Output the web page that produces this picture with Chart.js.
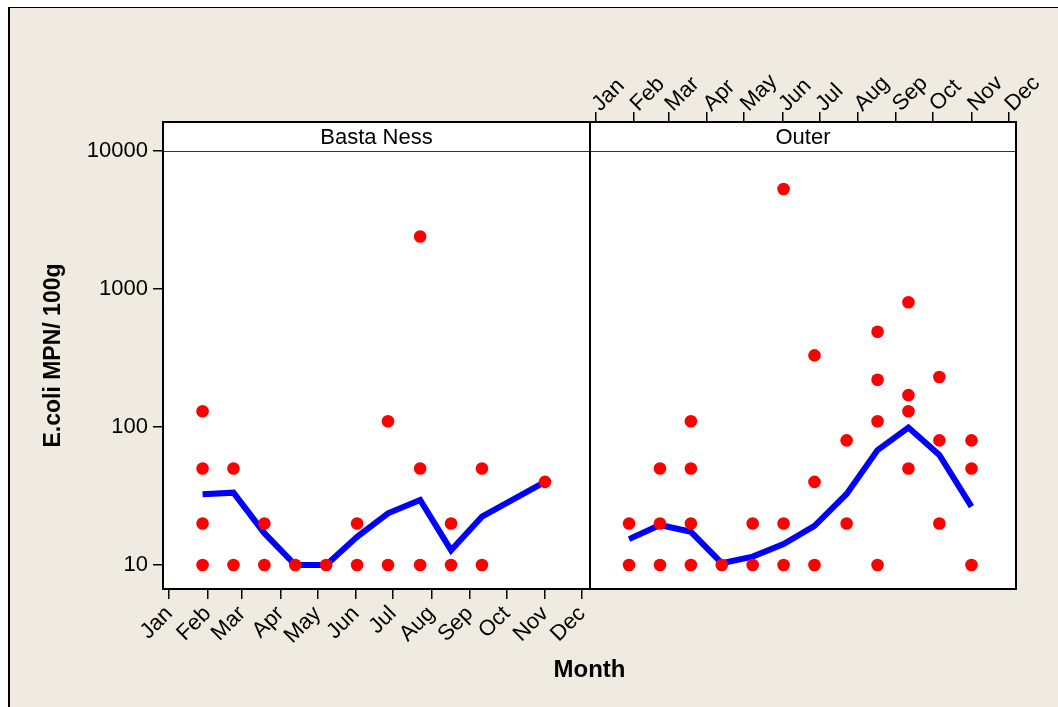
<!DOCTYPE html>
<html>
<head>
<meta charset="utf-8">
<script src="https://cdn.jsdelivr.net/npm/chart.js@4.4.1/dist/chart.umd.min.js"></script>
<style>
  html, body { margin:0; padding:0; background:#fff; }
  #frame { position:absolute; left:8px; top:7px; width:1050px; height:700px; background:#EFEBE1;
           border-left:2px solid #000; border-top:1px solid #000; box-sizing:border-box; }
  #wrap { position:absolute; left:0; top:0; width:1058px; height:707px; }
</style>
</head>
<body>
<div id="frame"></div>
<div id="wrap"><canvas id="chart" width="1058" height="707"></canvas></div>
<script>
// month ticks (day of year at first of month)
const months     = ['Jan','Feb','Mar','Apr','May','Jun','Jul','Aug','Sep','Oct','Nov','Dec'];
const monthStart = [0, 31, 59, 90, 120, 151, 181, 212, 243, 273, 304, 334];
// sampling days (day of year)
const sampleDay  = [27, 52, 77, 102, 127, 152, 177, 203, 228, 253, 278, 304];

// E.coli MPN/100g results per sampling day
const bastaNessValues = [[130,50,20,10],[50,10],[20,10],[10],[10],[20,10],[110,10],[2400,50,10],[20,10],[50,10],[],[40]];
const bastaNessMean   = [32.5, 33.4, 17, 10, 10, 16, 23.7, 29.6, 12.8, 22.4, null, 40];
const outerValues = [[20,10],[50,20,10],[110,50,20,10],[10],[20,10],[5300,20,10],[330,40,10],[80,20],[490,220,110,10],[800,170,130,50],[230,80,20],[80,50,10]];
const outerMean   = [15.4, 19.5, 17.4, 10.3, 11.5, 14.2, 19.2, 32.7, 68, 99, 62.7, 26.5];

const yTicks     = [10, 100, 1000, 10000];
const panelNames = ['Basta Ness', 'Outer'];

const DAY_MIN = -5, DAY_MAX = 340;
const SHIFT = DAY_MAX - DAY_MIN;   // right panel sits one panel-width further along x

const FONT = '"Liberation Sans", Arial, sans-serif';

function points(values, shift) {
  const out = [];
  values.forEach((vals, i) => vals.forEach(v => out.push({ x: sampleDay[i] + shift, y: v })));
  return out;
}
function meanLine(mean, shift) {
  return mean.map((v, i) => ({ x: sampleDay[i] + shift, y: v }));
}

const panelFrame = {
  id: 'panelFrame',
  beforeDraw(chart) {
    const { ctx, chartArea: a } = chart;
    ctx.save();
    ctx.fillStyle = '#fff';
    ctx.fillRect(a.left, a.top, a.width, a.height);
    ctx.restore();
  },
  afterDraw(chart) {
    const { ctx, chartArea: a, scales } = chart;
    const ySplit = Math.round(scales.y.getPixelForValue(10000)) + 0.5;
    const xMid = Math.round(scales.x.getPixelForValue(DAY_MAX));
    ctx.save();
    ctx.strokeStyle = '#333';
    ctx.lineWidth = 1;
    ctx.beginPath(); ctx.moveTo(a.left, ySplit); ctx.lineTo(a.right, ySplit); ctx.stroke();
    ctx.strokeStyle = '#000';
    ctx.lineWidth = 2;
    ctx.beginPath(); ctx.moveTo(xMid, a.top); ctx.lineTo(xMid, a.bottom); ctx.stroke();
    ctx.strokeRect(a.left, a.top, a.width, a.height);
    ctx.fillStyle = '#000';
    ctx.font = '22px ' + FONT;
    ctx.textAlign = 'center';
    ctx.textBaseline = 'middle';
    const yText = (a.top + ySplit) / 2 + 1;
    ctx.fillText(panelNames[0], (a.left + xMid) / 2, yText);
    ctx.fillText(panelNames[1], (xMid + a.right) / 2, yText);
    ctx.restore();
  }
};

const tickFont = { family: FONT, size: 22 };
const tickGrid = { drawOnChartArea: false, tickLength: 10, color: '#000', lineWidth: 1.5 };

new Chart(document.getElementById('chart'), {
  type: 'scatter',
  data: {
    datasets: [
      { data: points(bastaNessValues, 0), xAxisID: 'x', backgroundColor: '#FF0000', borderWidth: 0, pointRadius: 6.3, order: 0 },
      { data: points(outerValues, SHIFT), xAxisID: 'x2', backgroundColor: '#FF0000', borderWidth: 0, pointRadius: 6.3, order: 0 },
      { data: meanLine(bastaNessMean, 0), xAxisID: 'x', showLine: true, spanGaps: true, borderColor: '#0000FF',
        borderWidth: 6, pointRadius: 0, tension: 0, order: 1 },
      { data: meanLine(outerMean, SHIFT), xAxisID: 'x2', showLine: true, spanGaps: true, borderColor: '#0000FF',
        borderWidth: 6, pointRadius: 0, tension: 0, order: 1 }
    ]
  },
  options: {
    responsive: false,
    animation: false,
    layout: { padding: { left: 0, top: 0, right: 42, bottom: 0 } },
    plugins: { legend: { display: false }, tooltip: { enabled: false } },
    scales: {
      x: {
        type: 'linear', position: 'bottom', min: DAY_MIN, max: DAY_MIN + 2 * SHIFT,
        afterBuildTicks: s => { s.ticks = monthStart.map(v => ({ value: v })); },
        ticks: { autoSkip: false, minRotation: 45, maxRotation: 45, padding: 2, color: '#000', font: tickFont,
                 callback: (v, i) => months[i] },
        grid: tickGrid, border: { display: false },
        title: { display: true, text: 'Month', color: '#000', font: { family: FONT, size: 24, weight: 'bold' },
                 padding: { top: 0, bottom: 22 } },
        afterFit: s => { s.height = 118; s.paddingLeft = 0; s.paddingRight = 0; }
      },
      x2: {
        type: 'linear', position: 'top', min: DAY_MIN, max: DAY_MIN + 2 * SHIFT,
        afterBuildTicks: s => { s.ticks = monthStart.map(v => ({ value: v + SHIFT })); },
        ticks: { autoSkip: false, minRotation: 45, maxRotation: 45, padding: -5, labelOffset: 19, color: '#000',
                 font: tickFont, callback: (v, i) => months[i] },
        grid: tickGrid, border: { display: false },
        afterFit: s => { s.height = 122; s.paddingLeft = 0; s.paddingRight = 0; }
      },
      y: {
        type: 'logarithmic', position: 'left', min: 6.7, max: 16200,
        afterBuildTicks: s => { s.ticks = yTicks.map(v => ({ value: v })); },
        ticks: { padding: 5, color: '#000', font: { family: FONT, size: 22 }, callback: v => String(v) },
        grid: tickGrid, border: { display: false },
        title: { display: true, text: 'E.coli MPN/ 100g', color: '#000', font: { family: FONT, size: 23, weight: 'bold' },
                 padding: { top: 40, bottom: 0 } },
        afterFit: s => { s.width = 163; s.paddingTop = 0; s.paddingBottom = 0; }
      }
    }
  },
  plugins: [panelFrame]
});
</script>
</body>
</html>
